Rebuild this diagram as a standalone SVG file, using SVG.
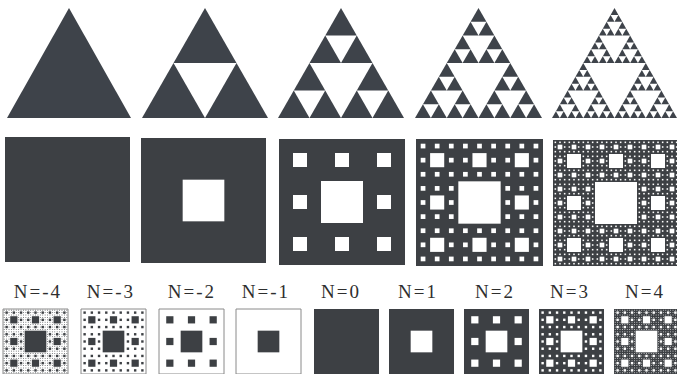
<svg xmlns="http://www.w3.org/2000/svg" xmlns:xlink="http://www.w3.org/1999/xlink" width="677" height="374" viewBox="0 0 677 374">
<style>
.tri{fill:#3e434a}
.dark{fill:#3d4044}
.hole{fill:#ffffff}
.neg{fill:#ffffff;stroke:#8a8a8a;stroke-width:1}
.lbl{font-family:"Liberation Serif","DejaVu Serif",serif;font-size:19px;fill:#2e2e2e;text-anchor:middle;letter-spacing:2px}
</style>
<defs>
<polygon id="t0" points="0,110 62.5,0 125,110"/>
<g id="t1"><use href="#t0" transform="translate(31.25 0) scale(.5)"/><use href="#t0" transform="translate(0 55) scale(.5)"/><use href="#t0" transform="translate(62.5 55) scale(.5)"/></g>
<g id="t2"><use href="#t1" transform="translate(31.25 0) scale(.5)"/><use href="#t1" transform="translate(0 55) scale(.5)"/><use href="#t1" transform="translate(62.5 55) scale(.5)"/></g>
<g id="t3"><use href="#t2" transform="translate(31.25 0) scale(.5)"/><use href="#t2" transform="translate(0 55) scale(.5)"/><use href="#t2" transform="translate(62.5 55) scale(.5)"/></g>
<g id="t4"><use href="#t3" transform="translate(31.25 0) scale(.5)"/><use href="#t3" transform="translate(0 55) scale(.5)"/><use href="#t3" transform="translate(62.5 55) scale(.5)"/></g>
<rect id="s1" x="27" y="27" width="27" height="27"/>
<g id="s2"><use href="#s1"/>
<use href="#s1" transform="translate(0 0) scale(.333333)"/><use href="#s1" transform="translate(27 0) scale(.333333)"/><use href="#s1" transform="translate(54 0) scale(.333333)"/>
<use href="#s1" transform="translate(0 27) scale(.333333)"/><use href="#s1" transform="translate(54 27) scale(.333333)"/>
<use href="#s1" transform="translate(0 54) scale(.333333)"/><use href="#s1" transform="translate(27 54) scale(.333333)"/><use href="#s1" transform="translate(54 54) scale(.333333)"/></g>
<g id="s3"><use href="#s1"/>
<use href="#s2" transform="translate(0 0) scale(.333333)"/><use href="#s2" transform="translate(27 0) scale(.333333)"/><use href="#s2" transform="translate(54 0) scale(.333333)"/>
<use href="#s2" transform="translate(0 27) scale(.333333)"/><use href="#s2" transform="translate(54 27) scale(.333333)"/>
<use href="#s2" transform="translate(0 54) scale(.333333)"/><use href="#s2" transform="translate(27 54) scale(.333333)"/><use href="#s2" transform="translate(54 54) scale(.333333)"/></g>
<g id="s4"><use href="#s1"/>
<use href="#s3" transform="translate(0 0) scale(.333333)"/><use href="#s3" transform="translate(27 0) scale(.333333)"/><use href="#s3" transform="translate(54 0) scale(.333333)"/>
<use href="#s3" transform="translate(0 27) scale(.333333)"/><use href="#s3" transform="translate(54 27) scale(.333333)"/>
<use href="#s3" transform="translate(0 54) scale(.333333)"/><use href="#s3" transform="translate(27 54) scale(.333333)"/><use href="#s3" transform="translate(54 54) scale(.333333)"/></g>
</defs>
<rect width="677" height="374" fill="#ffffff"/>

<!-- Sierpinski triangles -->
<g id="triangle-0" class="tri" transform="translate(7 8) scale(.992 1)"><use href="#t0"/></g>
<g id="triangle-1" class="tri" transform="translate(142 8) scale(1.008 1)"><use href="#t1"/></g>
<g id="triangle-2" class="tri" transform="translate(278 8) scale(1.008 1)"><use href="#t2"/></g>
<g id="triangle-3" class="tri" transform="translate(415 8) scale(1.016 1)"><use href="#t3"/></g>
<g id="triangle-4" class="tri" transform="translate(552 8) scale(1 1)"><use href="#t4"/></g>

<!-- Sierpinski carpets -->
<g id="carpet-0" transform="translate(5 137) scale(1.5432)"><rect class="dark" width="81" height="81"/></g>
<g id="carpet-1" transform="translate(141 138) scale(1.5432)"><rect class="dark" width="81" height="81"/><use class="hole" href="#s1"/></g>
<g id="carpet-2" transform="translate(279 139) scale(1.5556)"><rect class="dark" width="81" height="81"/><use class="hole" href="#s2"/></g>
<g id="carpet-3" transform="translate(416 139) scale(1.5679)"><rect class="dark" width="81" height="81"/><use class="hole" href="#s3"/></g>
<g id="carpet-4" transform="translate(553 140) scale(1.5556)"><rect class="dark" width="81" height="81"/><use class="hole" href="#s4"/></g>

<!-- N row -->
<g id="n-minus-4">
<text class="lbl" x="38" y="298">N=-4</text>
<g transform="translate(3 309) scale(.8025)"><rect class="neg" width="81" height="81" vector-effect="non-scaling-stroke"/><use class="dark" href="#s4"/></g>
</g>
<g id="n-minus-3">
<text class="lbl" x="111" y="298">N=-3</text>
<g transform="translate(81 309) scale(.8025)"><rect class="neg" width="81" height="81" vector-effect="non-scaling-stroke"/><use class="dark" href="#s3"/></g>
</g>
<g id="n-minus-2">
<text class="lbl" x="192" y="298">N=-2</text>
<g transform="translate(159 309) scale(.8025)"><rect class="neg" width="81" height="81" vector-effect="non-scaling-stroke"/><use class="dark" href="#s2"/></g>
</g>
<g id="n-minus-1">
<text class="lbl" x="266" y="298">N=-1</text>
<g transform="translate(236 309) scale(.8025)"><rect class="neg" width="81" height="81" vector-effect="non-scaling-stroke"/><use class="dark" href="#s1"/></g>
</g>
<g id="n-0">
<text class="lbl" x="341" y="298">N=0</text>
<g transform="translate(314 309) scale(.8025)"><rect class="dark" width="81" height="81"/></g>
</g>
<g id="n-1">
<text class="lbl" x="418" y="298">N=1</text>
<g transform="translate(389 309) scale(.8025)"><rect class="dark" width="81" height="81"/><use class="hole" href="#s1"/></g>
</g>
<g id="n-2">
<text class="lbl" x="495" y="298">N=2</text>
<g transform="translate(464 309) scale(.8025)"><rect class="dark" width="81" height="81"/><use class="hole" href="#s2"/></g>
</g>
<g id="n-3">
<text class="lbl" x="570" y="298">N=3</text>
<g transform="translate(539 309) scale(.8025)"><rect class="dark" width="81" height="81"/><use class="hole" href="#s3"/></g>
</g>
<g id="n-4">
<text class="lbl" x="645" y="298">N=4</text>
<g transform="translate(614 309) scale(.8025)"><rect class="dark" width="81" height="81"/><use class="hole" href="#s4"/></g>
</g>
<g id="connectors"/>
</svg>
